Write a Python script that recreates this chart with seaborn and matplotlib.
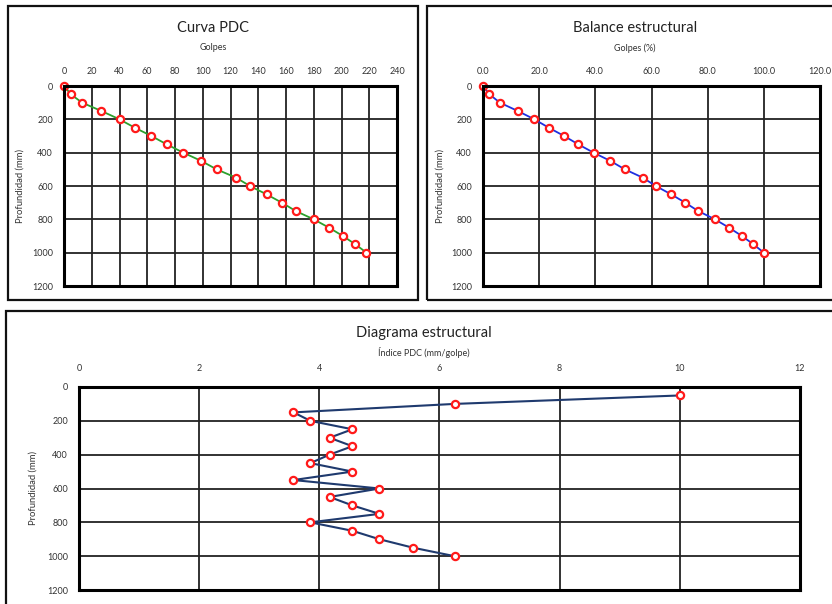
import numpy as np
import pandas as pd
import matplotlib
matplotlib.use("Agg")
import matplotlib.pyplot as plt
from matplotlib.patches import Rectangle
from matplotlib.ticker import FormatStrFormatter
import seaborn as sns

# profundidad (mm) de cada lectura
depth = [0, 50, 100, 150, 200, 250, 300, 350, 400, 450, 500,
         550, 600, 650, 700, 750, 800, 850, 900, 950, 1000]
# golpes acumulados
golpes = [0, 5, 13, 27, 40, 51, 63, 74, 86, 99, 110,
          124, 134, 146, 157, 167, 180, 191, 201, 210, 218]
# golpes acumulados (%)
golpes_pct = [0.0, 2.3, 6.0, 12.4, 18.3, 23.4, 28.9, 33.9, 39.4, 45.4, 50.5,
              56.9, 61.5, 67.0, 72.0, 76.6, 82.6, 87.6, 92.2, 96.3, 100.0]
# indice PDC por tramo
depth_idx = [50, 100, 150, 200, 250, 300, 350, 400, 450, 500,
             550, 600, 650, 700, 750, 800, 850, 900, 950, 1000]
indice = [10.0, 6.25, 3.57, 3.85, 4.55, 4.17, 4.55, 4.17, 3.85, 4.55,
          3.57, 5.0, 4.17, 4.55, 5.0, 3.85, 4.55, 5.0, 5.56, 6.25]

sns.set_style("white")
plt.rcParams['font.family'] = ['Lato', 'DejaVu Sans']

W, H = 832, 604
fig = plt.figure(figsize=(W / 100, H / 100), dpi=100)


def rect(l, t, r, b):
    return [l / W, 1 - b / H, (r - l) / W, (b - t) / H]


def style_axis(ax, xmax, xstep):
    ax.set_xlim(0, xmax)
    ax.set_ylim(1200, 0)
    ax.set_xticks(np.arange(0, xmax + xstep / 2, xstep))
    ax.set_yticks(np.arange(0, 1201, 200))
    ax.xaxis.tick_top()
    ax.tick_params(axis='both', length=0, labelsize=6.5, colors='#333333')
    ax.tick_params(axis='x', pad=7)
    ax.tick_params(axis='y', pad=8)
    ax.grid(True, color='#222222', linewidth=1.3)
    ax.set_axisbelow(True)
    for s in ax.spines.values():
        s.set_visible(True)
        s.set_color('black')
        s.set_linewidth(2.2)
    ax.set_xlabel('')
    ax.set_ylabel('')
    for ln in ax.lines:
        ln.set_clip_on(False)


mk = dict(marker='o', markersize=5.2, markerfacecolor='white',
          markeredgecolor='#ff1a1a', markeredgewidth=1.6)

# Curva PDC
ax1 = fig.add_axes(rect(64, 86, 397, 286))
sns.lineplot(x=golpes, y=depth, ax=ax1, color='#2ca02c', linewidth=1.3,
             estimator=None, sort=False, **mk)
style_axis(ax1, 240, 20)

# Balance estructural
ax2 = fig.add_axes(rect(483, 86, 820, 286))
sns.lineplot(x=golpes_pct, y=depth, ax=ax2, color='#1f2fe0', linewidth=1.3,
             estimator=None, sort=False, **mk)
style_axis(ax2, 120, 20)
ax2.xaxis.set_major_formatter(FormatStrFormatter('%.1f'))

# Diagrama estructural
ax3 = fig.add_axes(rect(79, 387, 800, 590))
sns.lineplot(x=indice, y=depth_idx, ax=ax3, color='#1f3a6e', linewidth=1.5,
             estimator=None, sort=False, **mk)
style_axis(ax3, 12, 2)
ax3.tick_params(axis='x', pad=10)

# titulos
titles = [(213, 28, 'Curva PDC', 48, 'Golpes'),
          (635, 28, 'Balance estructural', 48, 'Golpes (%)'),
          (424, 333, 'Diagrama estructural', 353, 'Índice PDC (mm/golpe)')]
for x, y, t, y2, st in titles:
    fig.text(x / W, 1 - y / H, t, ha='center', va='center', fontsize=10.5, color='#222222')
    fig.text(x / W, 1 - y2 / H, st, ha='center', va='center', fontsize=6.5, color='#333333')

# etiquetas del eje y
for x, yc in [(20, 186), (440, 186), (33, 488)]:
    fig.text(x / W, 1 - yc / H, 'Profundidad (mm)', rotation=90, ha='center',
             va='center', fontsize=6.8, color='#333333')

# marcos de cada grafico
for l, t, r, b in [(8, 6, 418, 300), (427, 6, 840, 300), (6, 311, 840, 620)]:
    fig.patches.append(Rectangle((l / W, 1 - b / H), (r - l) / W, (b - t) / H,
                                 transform=fig.transFigure, fill=False,
                                 edgecolor='#111111', linewidth=1.6))

fig.savefig('out.png', dpi=100, facecolor='white')
